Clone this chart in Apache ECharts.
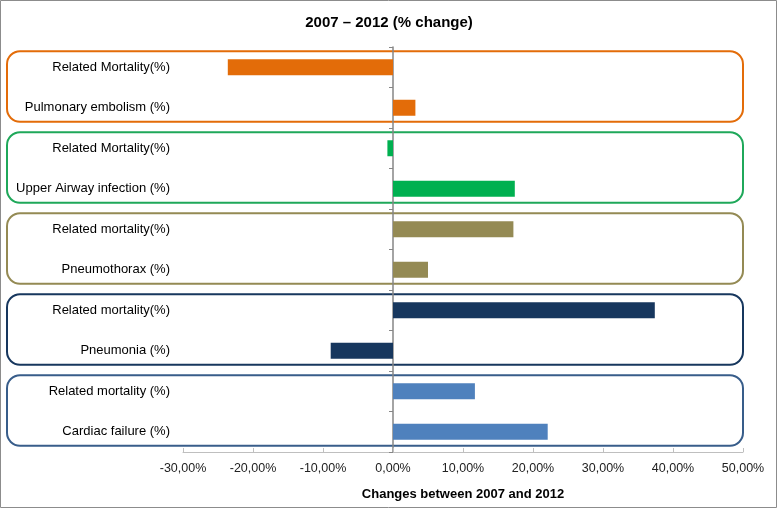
<!DOCTYPE html>
<html>
<head>
<meta charset="utf-8">
<script src="https://cdn.jsdelivr.net/npm/echarts@6/dist/echarts.min.js"></script>
<style>
html,body{margin:0;padding:0;background:#fff;}
#c{width:778px;height:509px;}
</style>
</head>
<body>
<div id="c"></div>
<script>
const categories = [
  'Related Mortality(%)',
  'Pulmonary embolism (%)',
  'Related Mortality(%)',
  'Upper Airway infection (%)',
  'Related mortality(%)',
  'Pneumothorax (%)',
  'Related mortality(%)',
  'Pneumonia (%)',
  'Related mortality (%)',
  'Cardiac failure (%)'
];
const values = [-23.6, 3.2, -0.8, 17.4, 17.2, 5.0, 37.4, -8.9, 11.7, 22.1];
const groupColors = ['#E36C09', '#00B050', '#948A54', '#17375E', '#4F81BD'];
const boxColors = ['#E36C09', '#1FA85A', '#948A54', '#17375E', '#385D8A'];
const xTicks = { min: -30, max: 50, interval: 10 };
const title = '2007 \u2013 2012 (% change)';
const xName = 'Changes between 2007 and 2012';

const FONT = 'Liberation Sans';
const chart = echarts.init(document.getElementById('c'), null, { renderer: 'canvas' });

const option = {
  backgroundColor: '#fff',
  animation: false,
  title: {
    text: title,
    left: 'center',
    top: 10,
    textStyle: { fontFamily: FONT, fontSize: 15, fontWeight: 'bold', color: '#000' }
  },
  grid: { left: 183, right: 35, top: 47, bottom: 57, containLabel: false, outerBoundsMode: 'none' },
  xAxis: {
    type: 'value',
    min: xTicks.min, max: xTicks.max, interval: xTicks.interval,
    name: xName,
    nameLocation: 'middle',
    nameGap: 36,
    nameTextStyle: { fontFamily: FONT, fontSize: 13, fontWeight: 'bold', color: '#000' },
    axisLine: { show: true, onZero: false, lineStyle: { color: '#BFBFBF', width: 1 } },
    axisTick: { show: true, inside: true, length: 4, lineStyle: { color: '#BFBFBF' } },
    splitLine: { show: false },
    axisLabel: {
      margin: 10,
      fontFamily: FONT, fontSize: 12.5, color: '#222',
      formatter: v => v.toFixed(2).replace('.', ',') + '%'
    }
  },
  yAxis: {
    type: 'category',
    data: categories,
    inverse: true,
    axisLine: { show: true, onZero: true, lineStyle: { color: '#868686', width: 1.5 } },
    axisTick: { show: true, length: 4, lineStyle: { color: '#868686' } },
    axisLabel: { margin: 13, fontFamily: FONT, fontSize: 13, color: '#000', hideOverlap: false },
    splitLine: { show: false }
  },
  series: [{
    type: 'bar',
    barWidth: 16,
    data: values.map((v, i) => ({ value: v, itemStyle: { color: groupColors[Math.floor(i / 2)] } })),
    z: 1
  }]
};
chart.setOption(option);

// decorative group frames and outer border
const graphics = [{
  type: 'rect',
  shape: { x: 0.5, y: 0.5, width: 776, height: 507 },
  style: { fill: 'none', stroke: '#8C8C8C', lineWidth: 1 },
  silent: true
}];
for (let g = 0; g < 5; g++) {
  const c0 = chart.convertToPixel({ yAxisIndex: 0 }, 2 * g);
  const c1 = chart.convertToPixel({ yAxisIndex: 0 }, 2 * g + 1);
  const top = c0 - 16, bottom = c1 + 14;
  graphics.push({
    type: 'rect',
    shape: { x: 7, y: top, width: 736, height: bottom - top, r: 13 },
    style: { fill: 'none', stroke: boxColors[g], lineWidth: 2 },
    silent: true,
    z: 0
  });
}
chart.setOption({ graphic: graphics });
</script>
</body>
</html>
